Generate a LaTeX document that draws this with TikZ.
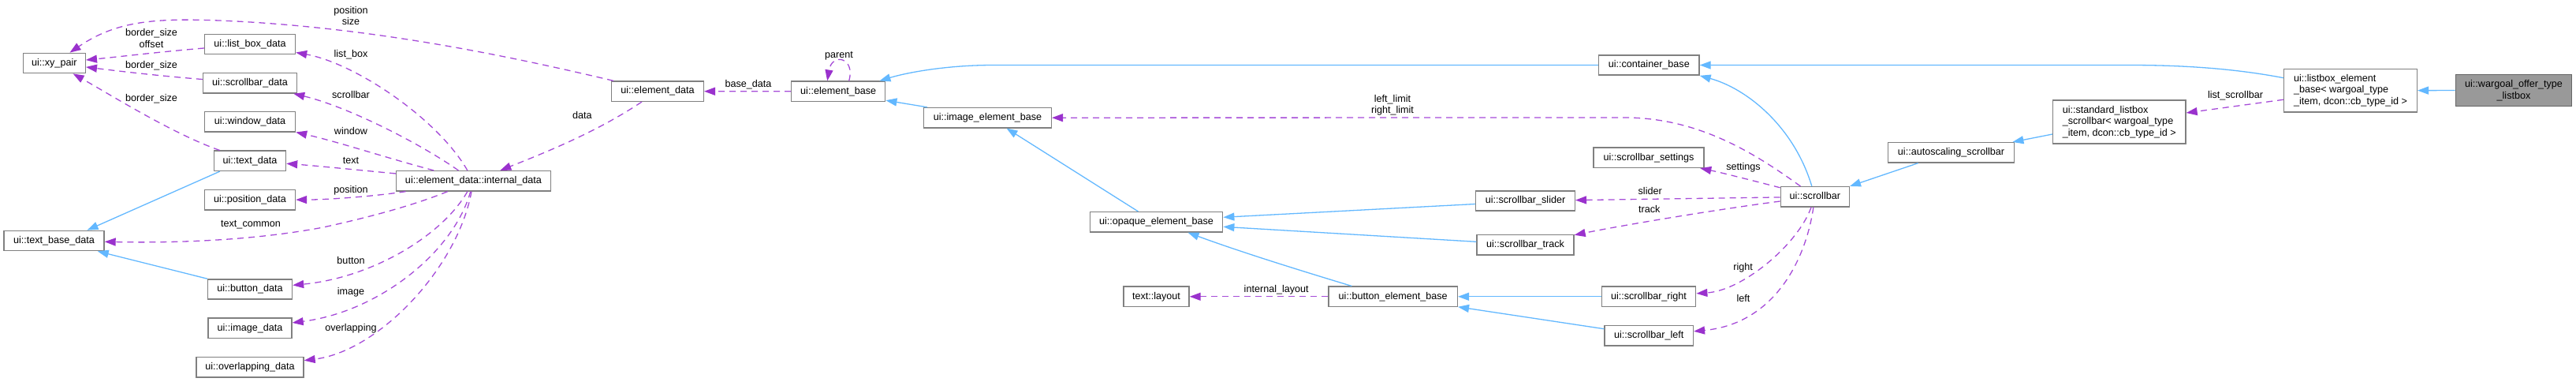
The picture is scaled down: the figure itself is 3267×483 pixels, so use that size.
\documentclass[tikz,border=0pt]{standalone}
\usepackage{fontspec}
\setmainfont{Liberation Sans}
\usetikzlibrary{arrows.meta,calc}
\definecolor{inhcol}{HTML}{63B8FF}
\definecolor{usecol}{HTML}{A64CD8}
\definecolor{usehead}{HTML}{9A32CD}
\definecolor{bordercol}{HTML}{808080}
\definecolor{rootfill}{HTML}{999999}
\definecolor{rootborder}{HTML}{666666}
\begin{document}
\begin{tikzpicture}[x=1pt,y=-1pt,
  every node/.style={font=\fontsize{12.6}{14.7}\selectfont},
  box/.style={draw=bordercol, line width=1.4pt, fill=white, inner sep=0pt},
  cls/.style={box, minimum height=25.3pt, text height=9pt, text depth=2.5pt},
  multi/.style={box, align=left},
  root/.style={box, draw=rootborder, fill=rootfill, align=center},
  lbl/.style={inner sep=0pt, align=center},
  inh/.style={draw=inhcol, line width=1.3pt,
    -{Triangle[length=14pt,width=10pt,color=inhcol,fill=inhcol]}},
  use/.style={draw=usecol, line width=1.3pt, dash pattern=on 8pt off 6pt,
    -{Triangle[length=14pt,width=10pt,color=usehead,fill=usehead]}}]
\useasboundingbox (0,0) rectangle (3267,483);

% ---- nodes ----
\node[cls, minimum width=79pt] (xy) at (68.8,80) {ui::xy\_pair};
\node[cls, minimum width=115pt] (listboxdata) at (317,56) {ui::list\_box\_data};
\node[cls, minimum width=119pt] (scrollbardata) at (317,105.3) {ui::scrollbar\_data};
\node[cls, minimum width=115pt] (windowdata) at (317,154.3) {ui::window\_data};
\node[cls, minimum width=91pt] (textdata) at (317,203.8) {ui::text\_data};
\node[cls, minimum width=115pt] (positiondata) at (317,253.2) {ui::position\_data};
\node[cls, minimum width=127pt] (textbase) at (68.5,305) {ui::text\_base\_data};
\node[cls, minimum width=107pt] (buttondata) at (317,366.5) {ui::button\_data};
\node[cls, minimum width=106pt] (imagedata) at (317,415.8) {ui::image\_data};
\node[cls, minimum width=136pt] (overlapping) at (317,465.3) {ui::overlapping\_data};
\node[cls, minimum width=196pt] (internal) at (600.5,229.3) {ui::element\_data::internal\_data};
\node[cls, minimum width=116.6pt] (elementdata) at (834,115.7) {ui::element\_data};
\node[cls, minimum width=119pt] (elementbase) at (1063.2,115.8) {ui::element\_base};
\node[cls, minimum width=161.6pt] (imageelem) at (1252.5,149.2) {ui::image\_element\_base};
\node[cls, minimum width=168.4pt] (opaque) at (1466.5,281.3) {ui::opaque\_element\_base};
\node[cls, minimum width=83pt] (textlayout) at (1466.5,375.8) {text::layout};
\node[cls, minimum width=163.3pt] (buttonelem) at (1766.7,375.8) {ui::button\_element\_base};
\node[cls, minimum width=125.6pt] (slider) at (1934.5,254.5) {ui::scrollbar\_slider};
\node[cls, minimum width=123pt] (track) at (1934.5,310.3) {ui::scrollbar\_track};
\node[cls, minimum width=127.3pt] (container) at (2091.3,82.5) {ui::container\_base};
\node[cls, minimum width=140pt] (settings) at (2091,199.8) {ui::scrollbar\_settings};
\node[cls, minimum width=119.4pt] (right) at (2091,375.8) {ui::scrollbar\_right};
\node[cls, minimum width=112.3pt] (left) at (2091.2,425.3) {ui::scrollbar\_left};
\node[cls, minimum width=87pt] (scrollbar) at (2301.8,249.3) {ui::scrollbar};
\node[cls, minimum width=160.4pt] (autoscaling) at (2474.5,193.3) {ui::autoscaling\_scrollbar};
\node[multi, minimum width=168.3pt, minimum height=55pt] (standard) at (2687.8,154.5)
  {ui::standard\_listbox\\\_scrollbar< wargoal\_type\\\_item, dcon::cb\_type\_id >};
\node[multi, minimum width=168.6pt, minimum height=54.7pt] (listboxelem) at (2981,114.7)
  {ui::listbox\_element\\\_base< wargoal\_type\\\_item, dcon::cb\_type\_id >};
\node[root, minimum width=147.4pt, minimum height=40.4pt] (wargoal) at (3188,114.5)
  {ui::wargoal\_offer\_type\\\_listbox};

% ---- inheritance edges ----
\draw[inh] ($(textdata.south west)+(8,0)$) -- ($(textbase.north)+(42,0)$);
\draw[inh] (buttondata.north west) -- ($(textbase.south east)+(-9,0)$);
\draw[inh] ($(imageelem.north west)+(5,0)$) -- ($(elementbase.south east)+(0,-2)$);
\draw[inh] (container) -- (1260,82.5) .. controls (1200,82.5) and (1150,92) .. ($(elementbase.north east)+(-8,0)$);
\draw[inh] (listboxelem) .. controls (2850,90) and (2790,82.5) .. (2700,82.5) -- (container);
\draw[inh] (scrollbar) .. controls (2275,160) and (2215,112) .. (container.south east);
\draw[inh] ($(opaque.north)+(-23,0)$) -- ($(imageelem.south)+(24,0)$);
\draw[inh] ($(slider.west)+(0,4)$) -- ($(opaque.east)+(0,-6)$);
\draw[inh] ($(track.west)+(0,-4)$) -- ($(opaque.east)+(0,6)$);
\draw[inh] ($(buttonelem.north west)+(30,0)$) .. controls (1640,340) and (1570,318) .. ($(opaque.south)+(40,0)$);
\draw[inh] (right) -- (buttonelem);
\draw[inh] ($(left.west)+(0,-8.6)$) -- ($(buttonelem.east)+(0,13)$);
\draw[inh] ($(autoscaling.south west)+(39,0)$) -- (scrollbar.north east);
\draw[inh] ($(standard.west)+(0,15.5)$) -- ($(autoscaling.north east)+(-3,0)$);
\draw[inh] (wargoal) -- (listboxelem);

% ---- usage edges ----
\draw[use] (elementdata) .. controls (600,60) and (450,35) .. (300,27) .. controls (200,22) and (150,25) .. (xy);
\node[lbl] (lpos) at (445,20) {position\\size};
\draw[use] (internal) .. controls (555,150) and (450,80) .. (listboxdata);
\node[lbl] (llb) at (445,69) {list\_box};
\draw[use] (internal) .. controls (530,180) and (440,135) .. (scrollbardata);
\node[lbl] (lsb) at (445,120) {scrollbar};
\draw[use] (internal) .. controls (490,200) and (430,180) .. (windowdata);
\node[lbl] (lwin) at (445,166) {window};
\draw[use] (internal) .. controls (450,215) and (400,210) .. (textdata);
\node[lbl] (ltext) at (445,203.7) {text};
\draw[use] (internal) .. controls (480,248) and (420,253) .. (positiondata);
\node[lbl] (lposd) at (445,241) {position};
\draw[use] (internal) .. controls (520,262) and (460,277) .. (410,288) .. controls (320,305) and (220,308) .. (textbase);
\node[lbl] (ltc) at (318,285) {text\_common};
\draw[use] (internal) .. controls (560,300) and (470,352) .. (buttondata);
\node[lbl] (lbtn) at (445,330) {button};
\draw[use] (internal) .. controls (575,320) and (480,395) .. (imagedata);
\node[lbl] (limg) at (445,370.7) {image};
\draw[use] (internal) .. controls (580,340) and (480,445) .. (overlapping);
\node[lbl] (lovl) at (445,416) {overlapping};
\draw[use] (textdata) .. controls (220,170) and (140,120) .. (xy);
\node[lbl] (lbs1) at (192,125) {border\_size};
\draw[use] (listboxdata) .. controls (200,66) and (150,72) .. (xy);
\node[lbl] (lbs2) at (192,48.5) {border\_size\\offset};
\draw[use] (scrollbardata) .. controls (200,96) and (150,90) .. (xy);
\node[lbl] (lbs3) at (192,82.7) {border\_size};
\draw[use] (elementdata) .. controls (760,165) and (700,190) .. (internal);
\node[lbl] (ldata) at (738.3,146) {data};
\draw[use] (elementbase) -- (elementdata);
\node[lbl] (lbd) at (949,107.3) {base\_data};
\draw[use] ($(elementbase.north)+(13.5,0)$) .. controls ($(elementbase.north)+(22,-30)$) and ($(elementbase.north)+(-8,-36)$) .. ($(elementbase.north)+(-14,0)$);
\node[lbl] (lpar) at (1064,71) {parent};
\draw[use] (scrollbar) .. controls (2220,190) and (2150,149) .. (2060,149) -- (imageelem);
\node[lbl] (llim) at (1766,133.3) {left\_limit\\right\_limit};
\draw[use] (scrollbar) .. controls (2220,228) and (2180,218) .. (settings);
\node[lbl] (lset) at (2211,212.7) {settings};
\draw[use] (scrollbar) -- (slider);
\node[lbl] (lsl) at (2092.7,242.3) {slider};
\draw[use] (scrollbar) .. controls (2180,265) and (2060,285) .. (track);
\node[lbl] (ltr) at (2091.7,265) {track};
\draw[use] (scrollbar) .. controls (2280,310) and (2210,368) .. (right);
\node[lbl] (lri) at (2210.7,339.3) {right};
\draw[use] (scrollbar) .. controls (2290,330) and (2250,410) .. (left);
\node[lbl] (lle) at (2211,378) {left};
\draw[use] (buttonelem) -- (textlayout);
\node[lbl] (lil) at (1618.7,367.7) {internal\_layout};
\draw[use] (listboxelem) -- (standard);
\node[lbl] (lls) at (2835,120.7) {list\_scrollbar};
\end{tikzpicture}
\end{document}
